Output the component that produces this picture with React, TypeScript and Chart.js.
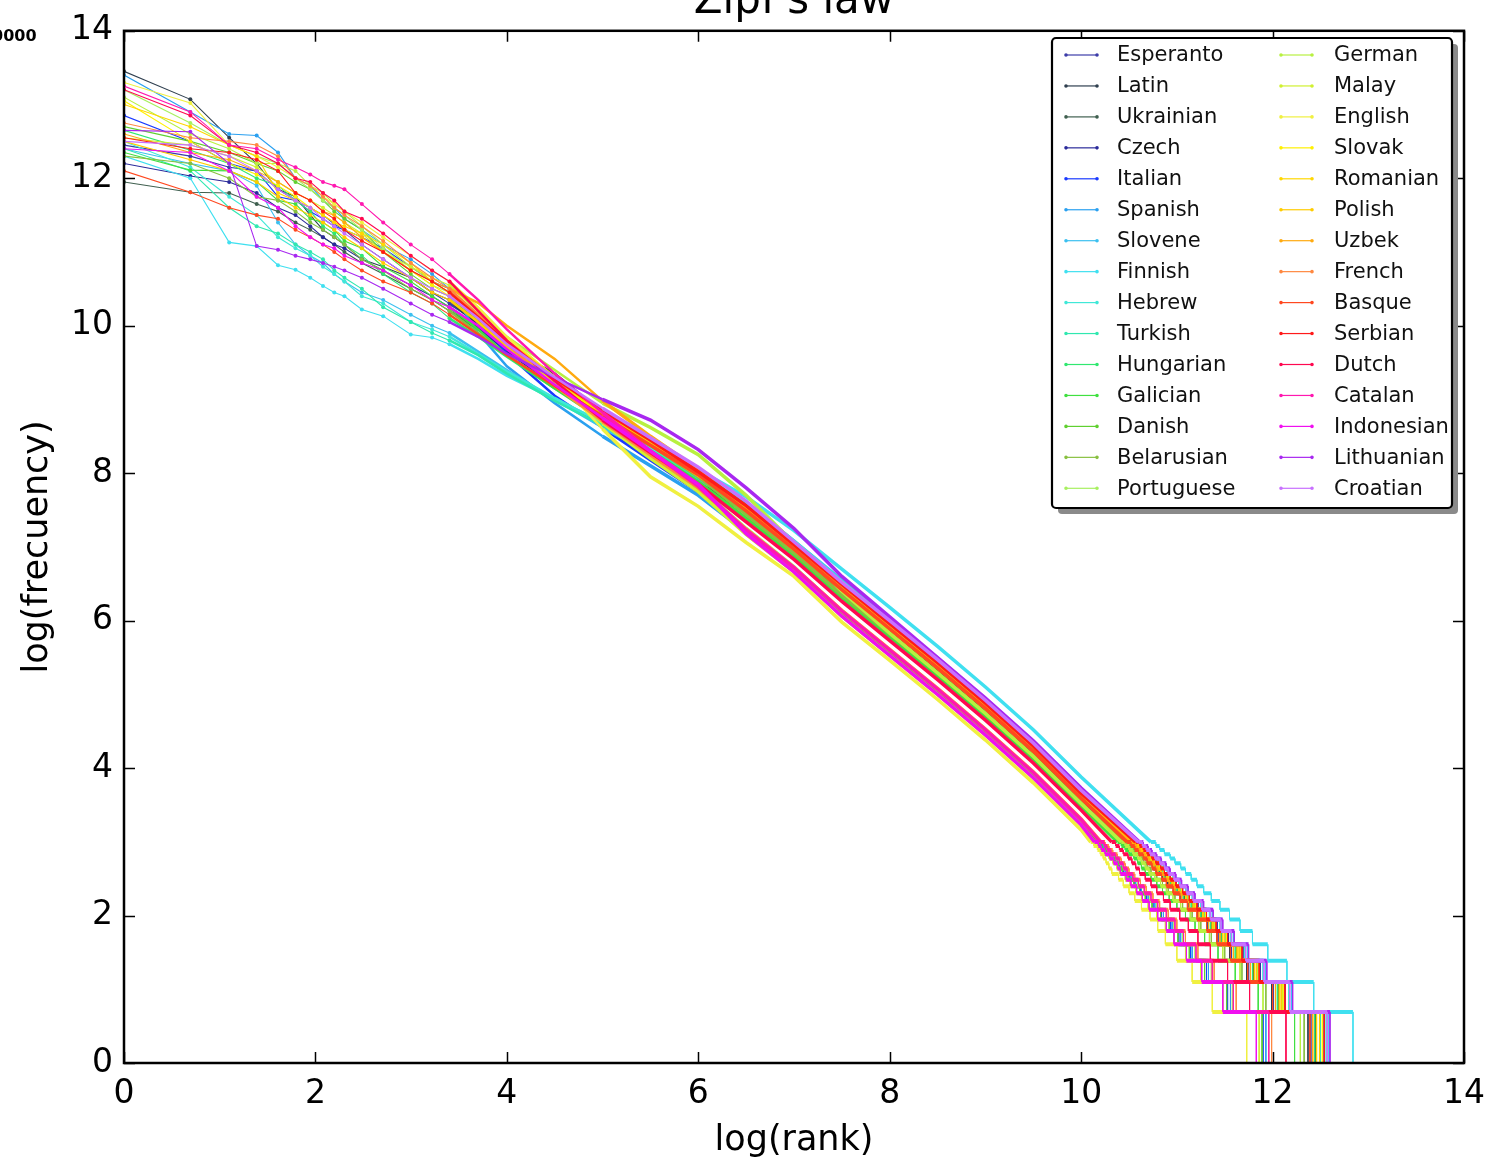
import React, { useEffect, useRef } from "react";
import { Chart, registerables } from "chart.js";

Chart.register(...registerables);

const LANGUAGES = [
  "Esperanto", "Latin", "Ukrainian", "Czech", "Italian", "Spanish", "Slovene", "Finnish",
  "Hebrew", "Turkish", "Hungarian", "Galician", "Danish", "Belarusian", "Portuguese",
  "German", "Malay", "English", "Slovak", "Romanian", "Polish", "Uzbek", "French",
  "Basque", "Serbian", "Dutch", "Catalan", "Indonesian", "Lithuanian", "Croatian",
];

const COLORS = [
  "#3c3ca8", "#2f3f4f", "#3f5f4f", "#2a2a9a", "#1a3aff", "#2aa0f0", "#3cc0f0", "#40e0f0",
  "#40e8d8", "#30e8b0", "#30e870", "#40e040", "#60d030", "#88c040", "#a8f060",
  "#b8f040", "#d0f030", "#f0f040", "#fff000", "#ffd700", "#ffcc00", "#ffaa10", "#ff8840",
  "#ff4820", "#ff1a1a", "#ff0850", "#ff18b0", "#f010f0", "#a828f0", "#c870ff",
];

// log(rank) of the first ranks (1..10, 12, 15, 20, 25, 30)
const HEAD_X = [0, 0.693, 1.099, 1.386, 1.609, 1.792, 1.946, 2.079, 2.197, 2.303, 2.485, 2.708, 2.996, 3.219, 3.401];
// log(rank) sample positions in the dense middle part
const BODY_X = [3.7, 4.0, 4.5, 5.0, 5.5, 6.0, 6.5, 7.0, 7.5, 8.0, 8.5, 9.0, 9.5, 10.0];
// log(frequency) levels of the low-frequency steps (freq 20 .. 2, then 1)
const STEP_LEVELS = [
  2.996, 2.944, 2.89, 2.833, 2.773, 2.708, 2.639, 2.565, 2.485, 2.398,
  2.303, 2.197, 2.079, 1.946, 1.792, 1.609, 1.386, 1.099, 0.693, 0,
];

const X_TICKS = [0, 2, 4, 6, 8, 10, 12, 14];
const Y_TICKS = [0, 2, 4, 6, 8, 10, 12, 14];

const HEAD_Y = [
  [12.45, 12.3, 12.15, 12.1, 11.85, 11.7, 11.6, 11.5, 11.38, 11.3, 11.1, 10.9, 10.65, 10.45, 10.3],
  [13.45, 13.07, 12.55, 12.2, 11.85, 11.75, 11.5, 11.3, 11.2, 11.1, 10.9, 10.8, 10.65, 10.45, 10.35],
  [11.95, 11.81, 11.8, 11.65, 11.55, 11.4, 11.3, 11.2, 11.1, 11.0, 10.85, 10.7, 10.5, 10.35, 10.2],
  [12.2, 12.03, 11.95, 11.8, 11.6, 11.5, 11.35, 11.2, 11.1, 11.05, 10.9, 10.75, 10.55, 10.4, 10.25],
  [12.85, 12.5, 12.2, 12.1, 11.75, 11.7, 11.55, 11.45, 11.35, 11.3, 11.2, 11.05, 10.8, 10.6, 10.5],
  [13.4, 12.9, 12.6, 12.58, 12.35, 12.0, 11.9, 11.7, 11.6, 11.45, 11.3, 11.1, 10.9, 10.7, 10.5],
  [12.4, 12.2, 12.1, 11.9, 11.4, 11.1, 10.95, 10.85, 10.7, 10.6, 10.45, 10.35, 10.15, 10.0, 9.9],
  [12.3, 12.0, 11.13, 11.08, 10.82, 10.76, 10.65, 10.54, 10.45, 10.4, 10.22, 10.13, 9.88, 9.84, 9.75],
  [12.5, 12.15, 11.75, 11.5, 11.2, 11.05, 10.95, 10.8, 10.7, 10.6, 10.4, 10.3, 10.05, 9.95, 9.85],
  [12.4, 12.1, 11.6, 11.35, 11.25, 11.1, 11.0, 10.9, 10.75, 10.65, 10.5, 10.25, 10.05, 9.9, 9.8],
  [12.65, 12.38, 12.2, 12.0, 11.9, 11.7, 11.55, 11.35, 11.25, 11.1, 10.95, 10.7, 10.45, 10.3, 10.1],
  [12.35, 12.11, 12.1, 11.95, 11.7, 11.65, 11.45, 11.4, 11.3, 11.15, 11.05, 10.8, 10.6, 10.4, 10.25],
  [12.7, 12.5, 12.35, 12.2, 12.1, 11.95, 11.85, 11.7, 11.55, 11.45, 11.3, 11.0, 10.7, 10.5, 10.4],
  [12.3, 12.2, 12.0, 11.75, 11.7, 11.55, 11.4, 11.3, 11.2, 11.1, 10.9, 10.75, 10.5, 10.35, 10.2],
  [13.2, 12.75, 12.45, 12.3, 12.2, 12.0, 11.85, 11.7, 11.6, 11.5, 11.3, 11.05, 10.75, 10.55, 10.45],
  [13.1, 12.6, 12.4, 12.2, 12.2, 12.1, 11.9, 11.8, 11.65, 11.55, 11.35, 11.1, 10.8, 10.6, 10.45],
  [12.55, 12.45, 12.3, 12.15, 11.95, 11.8, 11.7, 11.6, 11.5, 11.4, 11.25, 11.0, 10.8, 10.65, 10.55],
  [13.3, 13.02, 12.45, 12.3, 12.15, 12.0, 11.9, 11.75, 11.65, 11.55, 11.4, 11.2, 10.95, 10.75, 10.6],
  [13.05, 12.5, 12.2, 12.05, 11.9, 11.75, 11.6, 11.5, 11.4, 11.3, 11.2, 11.0, 10.75, 10.55, 10.4],
  [13.0, 12.7, 12.45, 12.3, 11.8, 11.7, 11.6, 11.5, 11.4, 11.35, 11.25, 11.1, 10.85, 10.6, 10.45],
  [12.5, 12.25, 12.1, 11.95, 11.75, 11.6, 11.5, 11.4, 11.3, 11.2, 11.05, 10.85, 10.65, 10.45, 10.35],
  [12.6, 12.35, 12.25, 12.1, 11.95, 11.8, 11.7, 11.55, 11.5, 11.4, 11.2, 11.0, 10.75, 10.6, 10.5],
  [12.75, 12.55, 12.5, 12.45, 12.3, 12.0, 11.9, 11.75, 11.6, 11.5, 11.35, 11.15, 10.85, 10.65, 10.5],
  [12.1, 11.81, 11.6, 11.5, 11.45, 11.3, 11.2, 11.1, 11.0, 10.9, 10.75, 10.6, 10.45, 10.3, 10.15],
  [12.55, 12.4, 12.35, 12.25, 12.1, 11.8, 11.7, 11.55, 11.45, 11.3, 11.15, 11.0, 10.75, 10.6, 10.45],
  [13.2, 12.85, 12.45, 12.35, 12.2, 12.0, 11.95, 11.8, 11.7, 11.55, 11.45, 11.25, 10.95, 10.75, 10.6],
  [13.25, 12.9, 12.45, 12.4, 12.25, 12.15, 12.05, 11.95, 11.9, 11.85, 11.65, 11.4, 11.1, 10.9, 10.7],
  [12.4, 12.35, 12.1, 11.75, 11.6, 11.35, 11.2, 11.1, 11.05, 10.95, 10.85, 10.75, 10.55, 10.35, 10.25],
  [12.65, 12.63, 12.2, 11.08, 11.03, 10.95, 10.9, 10.85, 10.8, 10.75, 10.65, 10.5, 10.3, 10.15, 10.05],
  [12.5, 12.45, 12.3, 12.1, 11.85, 11.7, 11.6, 11.45, 11.35, 11.25, 11.1, 10.9, 10.65, 10.5, 10.4],
];

const BODY_Y = [
  [10.05, 9.75, 9.25, 8.8, 8.4, 7.95, 7.49, 6.97, 6.42, 5.89, 5.36, 4.81, 4.23, 3.59],
  [10.0, 9.7, 9.35, 8.82, 8.38, 7.9, 7.46, 6.96, 6.4, 5.88, 5.35, 4.8, 4.22, 3.58],
  [9.95, 9.72, 9.3, 8.85, 8.45, 8.0, 7.52, 7.0, 6.46, 5.93, 5.4, 4.85, 4.27, 3.63],
  [9.98, 9.65, 9.2, 8.75, 8.35, 7.92, 7.56, 7.03, 6.49, 5.96, 5.43, 4.88, 4.3, 3.66],
  [10.1, 9.62, 9.05, 8.62, 8.18, 7.75, 7.2, 6.69, 6.1, 5.57, 5.04, 4.49, 3.91, 3.27],
  [9.9, 9.45, 8.95, 8.5, 8.1, 7.7, 7.2, 6.7, 6.12, 5.58, 5.05, 4.5, 3.92, 3.28],
  [9.65, 9.4, 9.0, 8.62, 8.28, 7.9, 7.6, 7.08, 6.55, 6.02, 5.49, 4.94, 4.36, 3.72],
  [9.55, 9.32, 9.0, 8.7, 8.38, 8.05, 7.68, 7.22, 6.7, 6.18, 5.65, 5.1, 4.52, 3.88],
  [9.62, 9.38, 9.02, 8.68, 8.33, 7.98, 7.6, 7.08, 6.53, 6.01, 5.48, 4.93, 4.35, 3.71],
  [9.6, 9.35, 8.98, 8.65, 8.3, 7.95, 7.56, 7.04, 6.49, 5.96, 5.43, 4.88, 4.3, 3.66],
  [9.85, 9.58, 9.15, 8.78, 8.42, 8.05, 7.54, 7.0, 6.46, 5.93, 5.4, 4.85, 4.27, 3.63],
  [9.95, 9.6, 9.15, 8.72, 8.3, 7.88, 7.39, 6.88, 6.31, 5.78, 5.25, 4.7, 4.12, 3.48],
  [10.05, 9.7, 9.2, 8.7, 8.25, 7.8, 7.22, 6.7, 6.11, 5.58, 5.05, 4.5, 3.92, 3.28],
  [9.9, 9.6, 9.18, 8.78, 8.38, 7.95, 7.44, 6.92, 6.35, 5.82, 5.29, 4.74, 4.16, 3.52],
  [10.12, 9.72, 9.2, 8.75, 8.28, 7.82, 7.25, 6.73, 6.13, 5.6, 5.07, 4.52, 3.94, 3.3],
  [10.15, 9.85, 9.4, 8.95, 8.62, 8.25, 7.7, 7.05, 6.4, 5.83, 5.29, 4.74, 4.16, 3.52],
  [10.2, 9.8, 9.2, 8.68, 8.2, 7.75, 7.17, 6.66, 6.06, 5.53, 5.0, 4.45, 3.87, 3.23],
  [10.25, 9.85, 9.3, 8.6, 7.95, 7.55, 7.06, 6.6, 5.98, 5.46, 4.93, 4.38, 3.8, 3.16],
  [10.1, 9.75, 9.25, 8.8, 8.4, 7.98, 7.55, 7.03, 6.49, 5.96, 5.43, 4.88, 4.3, 3.66],
  [10.15, 9.8, 9.3, 8.85, 8.42, 8.0, 7.52, 7.0, 6.46, 5.93, 5.4, 4.85, 4.27, 3.63],
  [10.05, 9.72, 9.28, 8.82, 8.4, 7.97, 7.55, 7.03, 6.48, 5.95, 5.42, 4.87, 4.29, 3.65],
  [10.31, 10.0, 9.55, 8.98, 8.5, 8.05, 7.5, 6.97, 6.42, 5.89, 5.36, 4.81, 4.23, 3.59],
  [10.15, 9.75, 9.18, 8.7, 8.25, 7.8, 7.24, 6.72, 6.14, 5.61, 5.08, 4.53, 3.95, 3.31],
  [9.88, 9.6, 9.18, 8.78, 8.38, 7.98, 7.49, 6.97, 6.42, 5.89, 5.36, 4.81, 4.23, 3.59],
  [10.12, 9.78, 9.28, 8.85, 8.45, 8.02, 7.56, 7.03, 6.49, 5.96, 5.43, 4.88, 4.3, 3.66],
  [10.2, 9.8, 9.25, 8.72, 8.28, 7.85, 7.34, 6.83, 6.26, 5.73, 5.2, 4.65, 4.07, 3.43],
  [10.35, 9.95, 9.35, 8.82, 8.3, 7.82, 7.23, 6.72, 6.13, 5.6, 5.07, 4.52, 3.94, 3.3],
  [10.0, 9.68, 9.2, 8.75, 8.3, 7.85, 7.18, 6.66, 6.06, 5.53, 5.0, 4.45, 3.87, 3.23],
  [9.85, 9.62, 9.3, 9.0, 8.72, 8.32, 7.8, 7.25, 6.6, 6.05, 5.5, 4.95, 4.37, 3.73],
  [10.1, 9.75, 9.3, 8.88, 8.48, 8.08, 7.62, 7.07, 6.52, 6.0, 5.47, 4.92, 4.34, 3.7],
];

// log(rank) where each low-frequency step begins/ends
const STEP_X = [
  [10.49, 10.53, 10.57, 10.61, 10.66, 10.7, 10.75, 10.79, 10.85, 10.9, 10.97, 11.04, 11.12, 11.22, 11.32, 11.43, 11.57, 11.75, 12.01, 12.4],
  [10.5, 10.54, 10.58, 10.62, 10.67, 10.71, 10.76, 10.8, 10.86, 10.91, 10.98, 11.05, 11.13, 11.22, 11.31, 11.42, 11.55, 11.73, 11.99, 12.37],
  [10.52, 10.56, 10.6, 10.64, 10.69, 10.73, 10.78, 10.82, 10.88, 10.94, 11.01, 11.08, 11.16, 11.26, 11.36, 11.47, 11.62, 11.8, 12.06, 12.45],
  [10.57, 10.61, 10.65, 10.69, 10.74, 10.78, 10.83, 10.87, 10.93, 10.99, 11.06, 11.13, 11.22, 11.31, 11.42, 11.54, 11.69, 11.87, 12.13, 12.54],
  [10.16, 10.2, 10.23, 10.27, 10.32, 10.36, 10.4, 10.44, 10.5, 10.56, 10.62, 10.68, 10.75, 10.84, 10.93, 11.02, 11.14, 11.31, 11.53, 11.9],
  [10.18, 10.22, 10.25, 10.29, 10.34, 10.38, 10.42, 10.46, 10.52, 10.57, 10.63, 10.7, 10.77, 10.86, 10.95, 11.04, 11.16, 11.33, 11.56, 11.93],
  [10.6, 10.64, 10.69, 10.73, 10.78, 10.83, 10.88, 10.92, 10.98, 11.04, 11.11, 11.18, 11.27, 11.37, 11.47, 11.59, 11.74, 11.93, 12.2, 12.59],
  [10.73, 10.78, 10.82, 10.87, 10.93, 10.98, 11.04, 11.09, 11.15, 11.21, 11.28, 11.36, 11.45, 11.55, 11.66, 11.79, 11.95, 12.15, 12.43, 12.84],
  [10.59, 10.63, 10.67, 10.71, 10.76, 10.81, 10.86, 10.9, 10.96, 11.02, 11.09, 11.16, 11.25, 11.34, 11.45, 11.56, 11.71, 11.9, 12.17, 12.56],
  [10.55, 10.59, 10.63, 10.67, 10.72, 10.76, 10.81, 10.85, 10.91, 10.97, 11.04, 11.11, 11.19, 11.29, 11.39, 11.51, 11.66, 11.84, 12.1, 12.5],
  [10.51, 10.55, 10.59, 10.63, 10.68, 10.72, 10.77, 10.81, 10.87, 10.93, 11.0, 11.07, 11.15, 11.25, 11.35, 11.46, 11.61, 11.79, 12.05, 12.44],
  [10.38, 10.42, 10.46, 10.5, 10.55, 10.59, 10.63, 10.67, 10.73, 10.79, 10.85, 10.92, 11.0, 11.09, 11.19, 11.29, 11.43, 11.61, 11.85, 12.23],
  [10.15, 10.19, 10.22, 10.26, 10.31, 10.35, 10.39, 10.43, 10.49, 10.55, 10.61, 10.67, 10.74, 10.83, 10.92, 11.01, 11.13, 11.29, 11.52, 11.89],
  [10.44, 10.48, 10.52, 10.56, 10.61, 10.65, 10.69, 10.73, 10.79, 10.85, 10.91, 10.98, 11.06, 11.16, 11.25, 11.36, 11.5, 11.68, 11.93, 12.33],
  [10.2, 10.24, 10.27, 10.31, 10.36, 10.4, 10.44, 10.48, 10.54, 10.59, 10.66, 10.72, 10.79, 10.89, 10.97, 11.06, 11.19, 11.36, 11.58, 11.96],
  [10.42, 10.46, 10.5, 10.54, 10.59, 10.63, 10.67, 10.71, 10.77, 10.83, 10.89, 10.96, 11.04, 11.14, 11.23, 11.34, 11.48, 11.66, 11.9, 12.29],
  [10.13, 10.17, 10.2, 10.24, 10.29, 10.33, 10.37, 10.4, 10.46, 10.51, 10.57, 10.63, 10.7, 10.79, 10.88, 10.97, 11.09, 11.25, 11.48, 11.86],
  [10.1, 10.13, 10.17, 10.2, 10.23, 10.26, 10.29, 10.32, 10.39, 10.44, 10.5, 10.56, 10.63, 10.72, 10.8, 10.88, 11.0, 11.16, 11.37, 11.73],
  [10.56, 10.6, 10.64, 10.68, 10.73, 10.77, 10.82, 10.86, 10.92, 10.98, 11.05, 11.12, 11.2, 11.3, 11.4, 11.52, 11.67, 11.85, 12.11, 12.52],
  [10.53, 10.57, 10.61, 10.65, 10.7, 10.74, 10.79, 10.83, 10.89, 10.95, 11.02, 11.09, 11.17, 11.27, 11.37, 11.48, 11.63, 11.81, 12.07, 12.46],
  [10.54, 10.58, 10.62, 10.66, 10.71, 10.75, 10.8, 10.84, 10.9, 10.96, 11.03, 11.1, 11.18, 11.28, 11.38, 11.5, 11.65, 11.83, 12.09, 12.49],
  [10.5, 10.54, 10.58, 10.62, 10.67, 10.71, 10.76, 10.8, 10.86, 10.92, 10.98, 11.05, 11.13, 11.23, 11.33, 11.45, 11.59, 11.77, 12.03, 12.42],
  [10.21, 10.25, 10.29, 10.33, 10.38, 10.42, 10.46, 10.5, 10.56, 10.62, 10.68, 10.75, 10.82, 10.91, 11.0, 11.09, 11.22, 11.39, 11.62, 11.99],
  [10.48, 10.52, 10.56, 10.6, 10.65, 10.69, 10.74, 10.78, 10.84, 10.89, 10.96, 11.03, 11.11, 11.21, 11.31, 11.42, 11.56, 11.74, 12.0, 12.39],
  [10.57, 10.61, 10.65, 10.69, 10.74, 10.78, 10.83, 10.87, 10.93, 10.99, 11.06, 11.13, 11.21, 11.31, 11.41, 11.53, 11.68, 11.86, 12.13, 12.54],
  [10.32, 10.36, 10.4, 10.44, 10.49, 10.53, 10.57, 10.61, 10.67, 10.73, 10.79, 10.86, 10.93, 11.03, 11.12, 11.22, 11.35, 11.53, 11.76, 12.14],
  [10.2, 10.24, 10.27, 10.31, 10.36, 10.4, 10.44, 10.48, 10.54, 10.6, 10.66, 10.73, 10.8, 10.89, 10.98, 11.07, 11.2, 11.37, 11.59, 11.96],
  [10.14, 10.18, 10.21, 10.25, 10.3, 10.34, 10.38, 10.41, 10.47, 10.52, 10.58, 10.64, 10.71, 10.8, 10.89, 10.97, 11.1, 11.26, 11.48, 11.83],
  [10.61, 10.65, 10.7, 10.74, 10.79, 10.84, 10.89, 10.93, 10.99, 11.05, 11.12, 11.19, 11.28, 11.38, 11.48, 11.6, 11.75, 11.94, 12.21, 12.6],
  [10.6, 10.64, 10.68, 10.72, 10.77, 10.82, 10.87, 10.91, 10.97, 11.03, 11.1, 11.17, 11.26, 11.35, 11.46, 11.57, 11.72, 11.91, 12.18, 12.57],
];

const FONT = "'DejaVu Sans', 'Liberation Sans', sans-serif";

const framePlugin = {
  id: "frameTicks",
  afterDatasetsDraw(chart: any) {
    const { ctx, chartArea: a, scales } = chart;
    const xs = scales.x;
    const ys = scales.y;
    ctx.save();
    ctx.strokeStyle = "#000";
    ctx.lineWidth = 1.5;
    ctx.beginPath();
    X_TICKS.forEach((v) => {
      const px = Math.round(xs.getPixelForValue(v)) + 0.5;
      ctx.moveTo(px, a.bottom);
      ctx.lineTo(px, a.bottom - 11);
      ctx.moveTo(px, a.top);
      ctx.lineTo(px, a.top + 11);
    });
    Y_TICKS.forEach((v) => {
      const py = Math.round(ys.getPixelForValue(v)) + 0.5;
      ctx.moveTo(a.left, py);
      ctx.lineTo(a.left + 11, py);
      ctx.moveTo(a.right, py);
      ctx.lineTo(a.right - 11, py);
    });
    ctx.stroke();
    ctx.lineWidth = 2.5;
    ctx.strokeRect(a.left, a.top, a.right - a.left, a.bottom - a.top);
    ctx.restore();
  },
};

const overlayPlugin = {
  id: "overlay",
  afterDraw(chart: any) {
    const { ctx, chartArea: a } = chart;
    ctx.save();
    // title (cut by the top edge)
    ctx.fillStyle = "#000";
    ctx.font = `42px ${FONT}`;
    ctx.textAlign = "center";
    ctx.textBaseline = "alphabetic";
    ctx.fillText("Zipf's law", (a.left + a.right) / 2, 13);
    // stray offset text at the top-left corner
    ctx.font = `bold 16px ${FONT}`;
    ctx.textAlign = "left";
    ctx.fillText("0000", -8, 41);

    // legend
    const bx = 1052, by = 38, bw = 400, bh = 470;
    ctx.fillStyle = "#8a8a8a";
    ctx.beginPath();
    ctx.roundRect(bx + 6, by + 6, bw, bh, 4);
    ctx.fill();
    ctx.fillStyle = "#fff";
    ctx.strokeStyle = "#000";
    ctx.lineWidth = 2.2;
    ctx.beginPath();
    ctx.roundRect(bx, by, bw, bh, 4);
    ctx.fill();
    ctx.stroke();

    ctx.font = `21px ${FONT}`;
    ctx.textBaseline = "middle";
    ctx.textAlign = "left";
    LANGUAGES.forEach((name, i) => {
      const col = i < 15 ? 0 : 1;
      const row = i % 15;
      const y = 55 + row * 30.95;
      const x1 = col === 0 ? 1066 : 1281;
      const x2 = x1 + 31;
      const tx = col === 0 ? 1117 : 1334;
      ctx.strokeStyle = COLORS[i];
      ctx.lineWidth = 1.2;
      ctx.beginPath();
      ctx.moveTo(x1, y);
      ctx.lineTo(x2, y);
      ctx.stroke();
      ctx.fillStyle = COLORS[i];
      ctx.beginPath();
      ctx.arc(x1, y, 1.8, 0, Math.PI * 2);
      ctx.arc(x2, y, 1.8, 0, Math.PI * 2);
      ctx.fill();
      ctx.fillStyle = "#111";
      ctx.fillText(name, tx, y + 1);
    });
    ctx.restore();
  },
};

export default function App() {
  const canvasRef = useRef<HTMLCanvasElement | null>(null);

  useEffect(() => {
    const canvas = canvasRef.current;
    if (!canvas) return;

    const datasets = LANGUAGES.map((name, i) => {
      const pts: { x: number; y: number }[] = [];
      HEAD_X.forEach((x, j) => pts.push({ x, y: HEAD_Y[i][j] }));
      BODY_X.forEach((x, j) => pts.push({ x, y: BODY_Y[i][j] }));
      const t = STEP_X[i];
      for (let j = 0; j < STEP_LEVELS.length - 1; j++) {
        pts.push({ x: t[j], y: STEP_LEVELS[j] });
        pts.push({ x: t[j + 1], y: STEP_LEVELS[j] });
      }
      pts.push({ x: t[t.length - 1], y: STEP_LEVELS[STEP_LEVELS.length - 1] });
      return {
        label: name,
        data: pts,
        borderColor: COLORS[i],
        backgroundColor: COLORS[i],
        pointBackgroundColor: COLORS[i],
        pointBorderWidth: 0,
        pointRadius: (ctx: any) => (ctx.raw && ctx.raw.x <= 3.45 ? 2 : 0),
        borderWidth: 1,
        tension: 0,
        order: LANGUAGES.length - i,
        segment: {
          borderWidth: (ctx: any) => {
            const a = ctx.p0.parsed;
            const b = ctx.p1.parsed;
            if (Math.abs(a.x - b.x) < 1e-9) return 1;
            if (a.x < 3.4) return 1.1;
            if (a.y === b.y) return 4;
            if (a.x < 5) return 2.5;
            return 3.5;
          },
        },
      };
    });

    const chart = new Chart(canvas, {
      type: "line",
      data: { datasets },
      options: {
        animation: false,
        responsive: false,
        maintainAspectRatio: false,
        devicePixelRatio: 1,
        events: [],
        layout: { padding: { top: 27, right: 46, left: 0, bottom: 0 } },
        plugins: {
          legend: { display: false },
          title: { display: false },
          tooltip: { enabled: false },
        },
        scales: {
          x: {
            type: "linear",
            min: 0,
            max: 14,
            grid: { display: false, drawTicks: false },
            border: { display: false },
            ticks: {
              stepSize: 2,
              padding: 12,
              color: "#000",
              font: { family: FONT, size: 33 },
            },
            title: {
              display: true,
              text: "log(rank)",
              color: "#000",
              font: { family: FONT, size: 35 },
              padding: { top: 0, bottom: 0 },
            },
            afterFit: (s: any) => {
              s.height = 99;
            },
          },
          y: {
            type: "linear",
            min: 0,
            max: 14,
            grid: { display: false, drawTicks: false },
            border: { display: false },
            ticks: {
              stepSize: 2,
              padding: 11,
              color: "#000",
              font: { family: FONT, size: 33 },
            },
            title: {
              display: true,
              text: "log(frecuency)",
              color: "#000",
              font: { family: FONT, size: 35 },
              padding: { top: 17, bottom: 0 },
            },
            afterFit: (s: any) => {
              s.width = 124;
            },
          },
        },
      },
      plugins: [framePlugin, overlayPlugin],
    });

    return () => chart.destroy();
  }, []);

  return (
    <div style={{ position: "absolute", left: 0, top: 0, width: 1510, height: 1162, background: "#fff" }}>
      <canvas ref={canvasRef} width={1510} height={1162} style={{ width: 1510, height: 1162, display: "block" }} />
    </div>
  );
}
